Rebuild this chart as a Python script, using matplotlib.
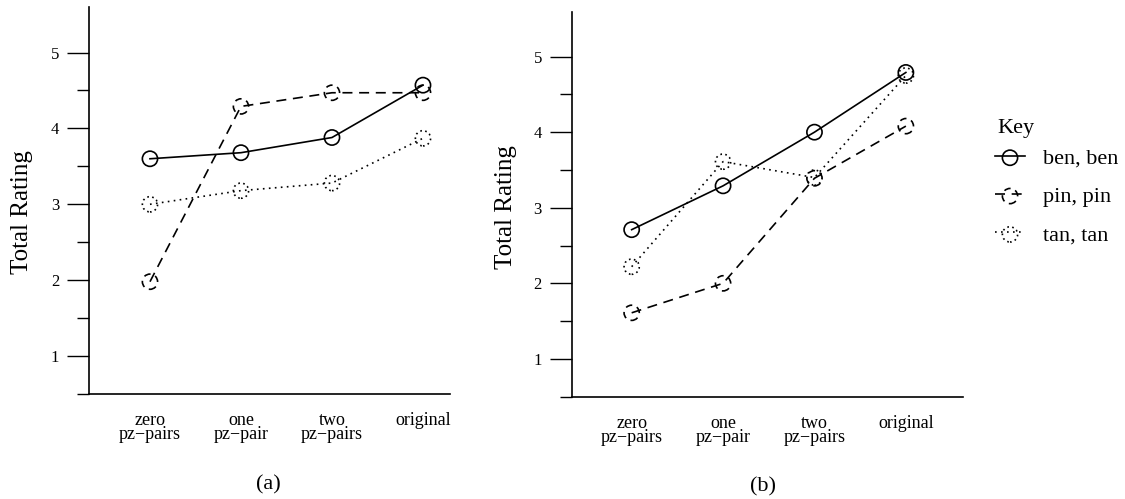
import matplotlib
matplotlib.use("Agg")
import matplotlib.pyplot as plt
from matplotlib.legend_handler import HandlerTuple

plt.rcParams['font.family'] = ['Liberation Serif', 'DejaVu Serif']

categories = ["zero\npz\u2212pairs", "one\npz\u2212pair", "two\npz\u2212pairs", "original"]
series_names = ["ben, ben", "pin, pin", "tan, tan"]

a_ben = [3.6, 3.68, 3.88, 4.57]
a_pin = [1.98, 4.29, 4.47, 4.47]
a_tan = [3.0, 3.18, 3.28, 3.87]

b_ben = [2.71, 3.29, 4.0, 4.79]
b_pin = [1.61, 2.0, 3.39, 4.08]
b_tan = [2.22, 3.61, 3.4, 4.75]

yticks = [1, 2, 3, 4, 5]
yminor = [0.5, 1.5, 2.5, 3.5, 4.5]

styles = [
    dict(ls='-', mls='-'),
    dict(ls=(0, (6, 4)), mls=(0, (4, 3))),
    dict(ls=(0, (1, 2.6)), mls=(0, (1, 2))),
]

fig = plt.figure(figsize=(11.25, 4.99), dpi=100)

def panel(rect, data, xlim, ylim, caption, cap_xy, tickpad, ylab_xy):
    ax = fig.add_axes(rect)
    x = list(range(len(categories)))
    handles = []
    for vals, st in zip(data, styles):
        ln, = ax.plot(x, vals, color='k', lw=1.2, linestyle=st['ls'], zorder=2)
        sc = ax.scatter(x, vals, s=120, facecolors='none', edgecolors='k',
                        linewidths=1.2, linestyles=[st['mls']], zorder=3)
        handles.append((ln, sc))
    ax.set_xlim(*xlim)
    ax.set_ylim(*ylim)
    ax.spines['top'].set_visible(False)
    ax.spines['right'].set_visible(False)
    for s in ('left', 'bottom'):
        ax.spines[s].set_linewidth(1.2)
    ax.set_yticks(yticks)
    ax.set_yticks(yminor, minor=True)
    ax.tick_params(axis='y', which='major', length=16, width=1.0, pad=tickpad, labelsize=12)
    ax.tick_params(axis='y', which='minor', length=9, width=1.0)
    ax.set_xticks(x)
    ax.set_xticklabels(categories, fontsize=13, linespacing=0.8)
    ax.tick_params(axis='x', which='major', length=0, pad=13)
    ax.set_ylabel("Total Rating", fontsize=18)
    ax.yaxis.set_label_coords(*ylab_xy)
    fig.text(cap_xy[0] / 1125, 1 - cap_xy[1] / 499, caption, fontsize=16,
             ha='center', va='center')
    return ax, handles

axA, hA = panel([89 / 1125, 1 - 394 / 499, 361 / 1125, 387 / 499],
                [a_ben, a_pin, a_tan], (-0.67, 3.297), (0.5, 5.6), "(a)", (268, 485), 5.5,
                (-0.155, 0.47))
axB, hB = panel([571.7 / 1125, 1 - 396.7 / 499, 391.3 / 1125, 384.7 / 499],
                [b_ben, b_pin, b_tan], (-0.656, 3.625), (0.5, 5.59), "(b)", (763, 487), 5.5,
                (-0.14, 0.493))

fig.text(997 / 1125, 1 - 129 / 499, "Key", fontsize=16, ha='left', va='center')
leg = fig.legend(hB, series_names, handler_map={tuple: HandlerTuple(ndivide=1)},
                 loc='upper left', bbox_to_anchor=(995 / 1125, 1 - 148 / 499),
                 frameon=False, fontsize=16, handlelength=1.35, handletextpad=0.8,
                 labelspacing=0.8, borderaxespad=0, borderpad=0)

fig.savefig("out.png", dpi=100)
